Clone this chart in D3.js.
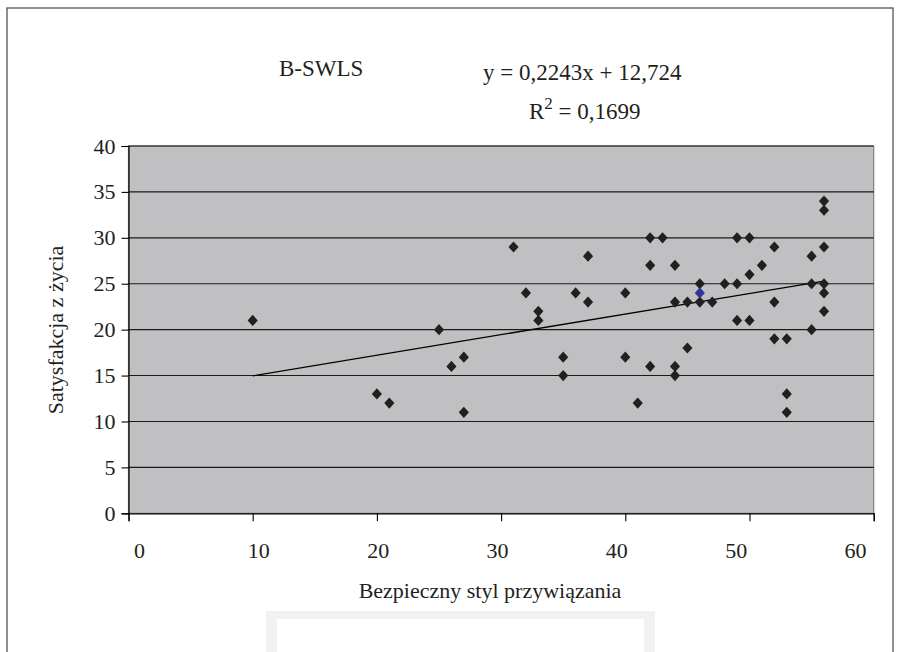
<!DOCTYPE html>
<html>
<head>
<meta charset="utf-8">
<script src="https://cdn.jsdelivr.net/npm/d3@7/dist/d3.min.js"></script>
<style>
  html, body { margin: 0; padding: 0; background: #ffffff; }
  svg { display: block; }
  text { font-family: "Liberation Serif", "Times New Roman", serif; fill: #231f20; }
</style>
</head>
<body>
<svg id="chart" width="900" height="652"></svg>
<script>
// ---- data ----
const xValues = [10, 20, 21, 25, 26, 27, 27, 31, 32, 33, 33, 35, 35, 36, 37, 37, 40, 40, 41,
  42, 42, 42, 43, 44, 44, 44, 44, 45, 45, 46, 46, 46, 47, 48, 49, 49, 49, 50, 50, 50, 51,
  52, 52, 52, 53, 53, 53, 55, 55, 55, 56, 56, 56, 56, 56, 56];
const yValues = [21, 13, 12, 20, 16, 17, 11, 29, 24, 22, 21, 17, 15, 24, 28, 23, 24, 17, 12,
  30, 27, 16, 30, 27, 23, 16, 15, 23, 18, 25, 24, 23, 23, 25, 30, 25, 21, 30, 26, 21, 27,
  29, 23, 19, 19, 13, 11, 28, 25, 20, 34, 33, 29, 25, 24, 22];
const highlighted = [[46, 24]];          // the one blue point
const xTicks = [0, 10, 20, 30, 40, 50, 60];
const yTicks = [0, 5, 10, 15, 20, 25, 30, 35, 40];
const trendSlope = 0.2243;
const trendIntercept = 12.724;
const seriesName = "B-SWLS";
const equationLabel = "y = 0,2243x + 12,724";
const r2Value = "0,1699";
const xTitle = "Bezpieczny styl przywiązania";
const yTitle = "Satysfakcja z życia";

// ---- layout ----
const svg = d3.select("#chart");
const x = d3.scaleLinear().domain([0, 60]).range([128.5, 873.7]);
const y = d3.scaleLinear().domain([0, 40]).range([513.3, 146]);
// tick labels in the source sit on a slightly narrower span than the tick marks
const xLabel = d3.scaleLinear().domain([0, 60]).range([139, 855]);
const fontSize = 22;

// outer frame
svg.append("rect").attr("x", 7).attr("y", 8).attr("width", 886).attr("height", 680)
  .attr("fill", "#fff").attr("stroke", "#555").attr("stroke-width", 1.3);

// faint watermark box at bottom
svg.append("rect").attr("x", 266).attr("y", 611).attr("width", 389).attr("height", 60)
  .attr("fill", "#f1f1f1");
svg.append("rect").attr("x", 277).attr("y", 619).attr("width", 367).attr("height", 60)
  .attr("fill", "#ffffff");

// plot area
svg.append("rect").attr("x", x(0)).attr("y", y(40))
  .attr("width", x(60) - x(0)).attr("height", y(0) - y(40))
  .attr("fill", "#c0c0c3").attr("stroke", "#808080").attr("stroke-width", 1.2);

// gridlines
svg.append("g").selectAll("line").data(yTicks.filter(d => d > 0)).join("line")
  .attr("x1", x(0)).attr("x2", x(60))
  .attr("y1", d => y(d)).attr("y2", d => y(d))
  .attr("stroke", "#1a1a1a").attr("stroke-width", 1.1);

// axes
const yAxis = svg.append("g").attr("transform", `translate(${x(0)},0)`)
  .call(d3.axisLeft(y).tickValues(yTicks).tickSize(7).tickPadding(6).tickFormat(d3.format("d")));
const xAxis = svg.append("g").attr("transform", `translate(0,${y(0)})`)
  .call(d3.axisBottom(x).tickValues(xTicks).tickSize(8).tickFormat(""));
const xLabels = svg.append("g").attr("transform", `translate(0,${y(0)})`)
  .call(d3.axisBottom(xLabel).tickValues(xTicks).tickSize(0).tickPadding(29).tickFormat(d3.format("d")));
xLabels.select(".domain").remove();
[yAxis, xAxis].forEach(g => {
  g.select(".domain").attr("stroke", "#000").attr("stroke-width", 1.2);
  g.selectAll(".tick line").attr("stroke", "#000").attr("stroke-width", 1.1);
});
[yAxis, xLabels].forEach(g => {
  g.selectAll(".tick text").attr("font-size", fontSize)
    .attr("font-family", "Liberation Serif, Times New Roman, serif").attr("fill", "#231f20");
});

// trendline
const xMin = d3.min(xValues), xMax = d3.max(xValues);
svg.append("line")
  .attr("x1", x(xMin)).attr("y1", y(trendSlope * xMin + trendIntercept))
  .attr("x2", x(xMax)).attr("y2", y(trendSlope * xMax + trendIntercept))
  .attr("stroke", "#000").attr("stroke-width", 1.3);

// points
const pts = xValues.map((v, i) => ({ x: v, y: yValues[i] }));
const isHi = d => highlighted.some(h => h[0] === d.x && h[1] === d.y);
const diamond = d3.symbol().type(d3.symbolDiamond2).size(66);
svg.append("g").selectAll("path").data(pts.filter(d => !isHi(d))).join("path")
  .attr("d", diamond)
  .attr("transform", d => `translate(${x(d.x)},${y(d.y)}) scale(1,1.1)`)
  .attr("fill", "#231f20");
svg.append("g").selectAll("path").data(pts.filter(isHi)).join("path")
  .attr("d", diamond)
  .attr("transform", d => `translate(${x(d.x)},${y(d.y)}) scale(1,1.1)`)
  .attr("fill", "#333399");

// titles
svg.append("text").attr("x", 279).attr("y", 76).attr("font-size", 23).text(seriesName);
svg.append("text").attr("x", 483).attr("y", 80).attr("font-size", 23).text(equationLabel);
const r2 = svg.append("text").attr("x", 529).attr("y", 119).attr("font-size", 23);
r2.append("tspan").text("R");
r2.append("tspan").attr("dy", -10).attr("font-size", 17).text("2");
r2.append("tspan").attr("dy", 10).text(" = " + r2Value);

svg.append("text").attr("x", 490).attr("y", 598).attr("text-anchor", "middle")
  .attr("font-size", fontSize).text(xTitle);
svg.append("text").attr("transform", "translate(63,330) rotate(-90)")
  .attr("text-anchor", "middle").attr("font-size", fontSize).text(yTitle);
</script>
</body>
</html>
